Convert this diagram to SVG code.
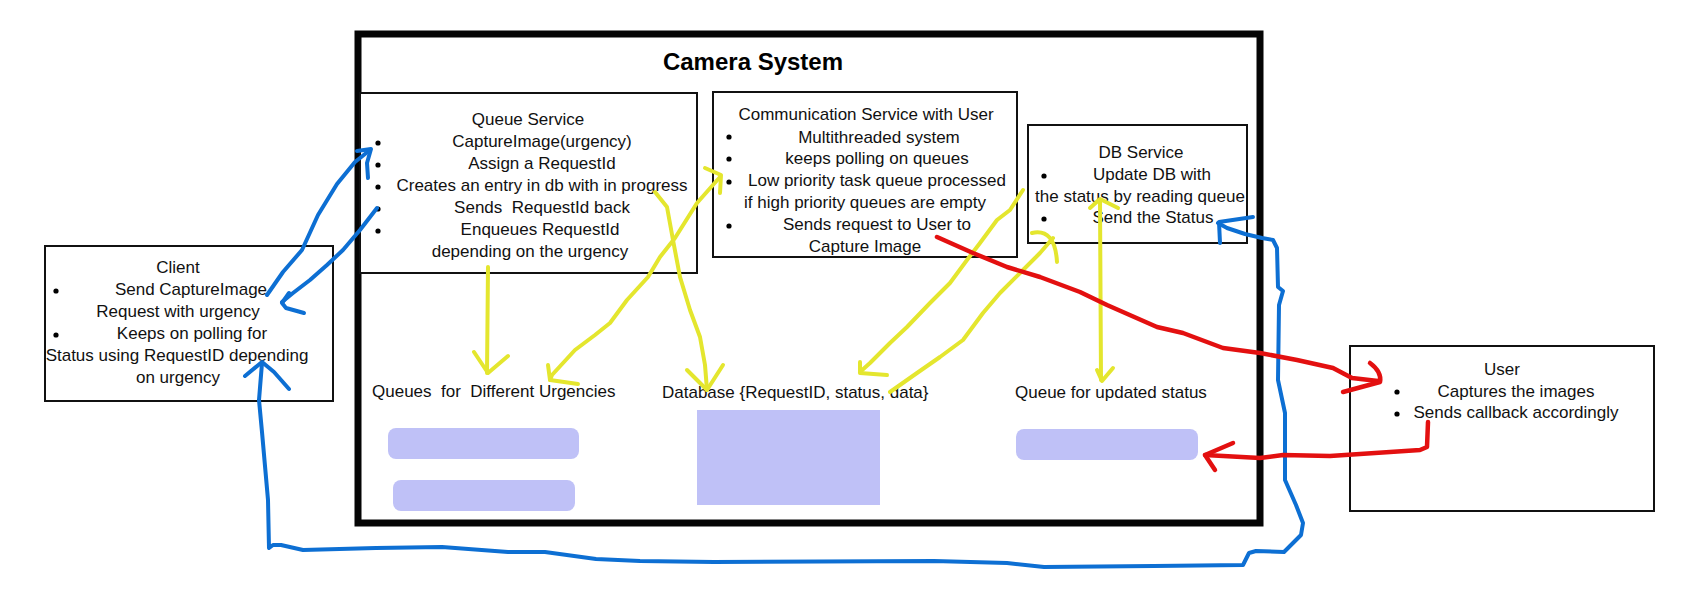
<svg xmlns="http://www.w3.org/2000/svg" width="1692" height="605" viewBox="0 0 1692 605">
<style>
text{font-family:"Liberation Sans",Arial,sans-serif;font-size:17px;fill:#111;white-space:pre}
.c{text-anchor:middle}
.title{font-size:24px;font-weight:bold;fill:#000}
.box{fill:#fff;stroke:#111;stroke-width:2}
.lav{fill:#bfc1f7}
.blue,.yellow,.red{fill:none;stroke-linecap:round;stroke-linejoin:round}
.blue{stroke:#0d6fd3;stroke-width:4}
.yellow{stroke:#e4e62e;stroke-width:4}
.red{stroke:#e31010;stroke-width:4.5}
</style>
<rect width="1692" height="605" fill="#fff"/>
<g id="camera-system">
<rect x="358" y="34" width="902" height="489" fill="none" stroke="#050505" stroke-width="7"/>
<text class="title c" x="753" y="70">Camera System</text>
</g>
<g id="client">
<rect class="box" x="45" y="246" width="288" height="155"/>
<text class="c" x="178" y="273">Client</text>
<circle cx="56" cy="291" r="2.6"/>
<text class="c" x="191" y="295">Send CaptureImage</text>
<text class="c" x="178" y="317">Request with urgency</text>
<circle cx="56" cy="335" r="2.6"/>
<text class="c" x="192" y="339">Keeps on polling for</text>
<text class="c" x="177" y="361">Status using RequestID depending</text>
<text class="c" x="178" y="383">on urgency</text>
</g>
<g id="queue-service">
<rect class="box" x="360" y="93" width="337" height="180" stroke-width="2.5"/>
<text class="c" x="528" y="125">Queue Service</text>
<circle cx="378" cy="143" r="2.6"/>
<circle cx="378" cy="165" r="2.6"/>
<circle cx="378" cy="187" r="2.6"/>
<circle cx="378" cy="209" r="2.6"/>
<circle cx="378" cy="231" r="2.6"/>
<text class="c" x="542" y="147">CaptureImage(urgency)</text>
<text class="c" x="542" y="169">Assign a RequestId</text>
<text class="c" x="542" y="191">Creates an entry in db with in progress</text>
<text class="c" x="542" y="213">Sends  RequestId back</text>
<text class="c" x="540" y="235">Enqueues RequestId</text>
<text class="c" x="530" y="257">depending on the urgency</text>
</g>
<g id="communication-service">
<rect class="box" x="713" y="92" width="304" height="165"/>
<text class="c" x="866" y="120">Communication Service with User</text>
<circle cx="729" cy="137" r="2.6"/>
<circle cx="729" cy="159" r="2.6"/>
<circle cx="729" cy="182" r="2.6"/>
<circle cx="729" cy="226" r="2.6"/>
<text class="c" x="879" y="143">Multithreaded system</text>
<text class="c" x="877" y="164">keeps polling on queues</text>
<text class="c" x="877" y="186">Low priority task queue processed</text>
<text class="c" x="865" y="208">if high priority queues are empty</text>
<text class="c" x="877" y="230">Sends request to User to</text>
<text class="c" x="865" y="252">Capture Image</text>
</g>
<g id="db-service">
<rect class="box" x="1028" y="125" width="219" height="118" stroke-width="1.5"/>
<text class="c" x="1141" y="158">DB Service</text>
<circle cx="1044" cy="176" r="2.6"/>
<text class="c" x="1152" y="180">Update DB with</text>
<text class="c" x="1140" y="202">the status by reading queue</text>
<circle cx="1044" cy="219" r="2.6"/>
<text class="c" x="1153" y="223">Send the Status</text>
</g>
<g id="user">
<rect class="box" x="1350" y="346" width="304" height="165" stroke-width="2.5"/>
<text class="c" x="1502" y="375">User</text>
<circle cx="1397" cy="392" r="2.6"/>
<text class="c" x="1516" y="397">Captures the images</text>
<circle cx="1397" cy="414" r="2.6"/>
<text class="c" x="1516" y="418">Sends callback accordingly</text>
</g>
<g id="queues-urgencies">
<text x="372" y="397">Queues  for  Different Urgencies</text>
<rect class="lav" x="388" y="428" width="191" height="31" rx="8"/>
<rect class="lav" x="393" y="480" width="182" height="31" rx="8"/>
</g>
<g id="database">
<text x="662" y="398">Database {RequestID, status, data}</text>
<rect class="lav" x="697" y="410" width="183" height="95"/>
</g>
<g id="status-queue">
<text x="1015" y="398">Queue for updated status</text>
<rect class="lav" x="1016" y="429" width="182" height="31" rx="8"/>
</g>
<g id="connectors">
<polyline class="blue" points="267,295 283,272 302,250 318,215 337,184 355,162 370,150"/>
<polyline class="blue" points="357,151 371,149 367,163 368,178"/>
<polyline class="blue" points="377,208 360,230 343,250 327,265 310,280 293,293 282,302"/>
<polyline class="blue" points="289,293 282,303 286,308 304,313"/>
<polyline class="blue" points="1218,223 1227,228 1245,234 1262,238 1273,240 1277,248 1278,287 1283,291 1279,305 1278,380 1285,413 1285,480 1296,505 1303,523 1301,535 1293,543 1284,552 1256,551 1249,553 1243,565 1154,566 1044,567 1007,563 934,561 714,562 640,561 596,559 545,552 508,552 442,547 376,548 303,550 281,545 273,545 269,548 268,500 262,432 259,400 262,363"/>
<polyline class="blue" points="1253,217 1219,222 1220,243" stroke-width="5.5"/>
<polyline class="blue" points="245,376 262,362 274,372 289,389"/>
<line class="yellow" x1="488" y1="267" x2="487" y2="373"/>
<polyline class="yellow" points="474,352 488,373 508,356"/>
<polyline class="yellow" points="720,177 697,203 675,238 660,257 648,277 627,300 610,323 595,335 575,350 552,375 550,380"/>
<polyline class="yellow" points="548,365 550,380 578,384"/>
<polyline class="yellow" points="705,168 721,175 720,193"/>
<polyline class="yellow" points="655,192 667,207 673,240 680,277 690,310 700,337 705,365 707,390"/>
<polyline class="yellow" points="687,370 707,390 723,365"/>
<polyline class="yellow" points="1023,190 1010,210 997,220 980,243 967,260 950,283 930,303 907,327 890,343 870,363 860,372"/>
<polyline class="yellow" points="860,362 860,373 887,375"/>
<polyline class="yellow" points="890,392 917,373 940,357 963,340 983,313 1000,293 1020,273 1040,253 1053,238"/>
<path class="yellow" d="M1032,233 Q1055,228 1057,262"/>
<line class="yellow" x1="1100" y1="200" x2="1101" y2="380"/>
<polyline class="yellow" points="1090,208 1100,199 1118,208"/>
<polyline class="yellow" points="1097,370 1102,381 1113,368"/>
<polyline class="red" points="937,237 973,253 1007,267 1040,277 1080,292 1107,305 1157,327 1183,333 1223,348 1260,353 1297,360 1333,368 1352,378 1378,381"/>
<path class="red" d="M1370,363 Q1382,372 1380,382 L1343,392"/>
<polyline class="red" points="1428,422 1427,447 1420,450 1330,456 1283,455 1260,458 1205,455"/>
<polyline class="red" points="1233,443 1205,455 1215,470"/>
</g>
</svg>
